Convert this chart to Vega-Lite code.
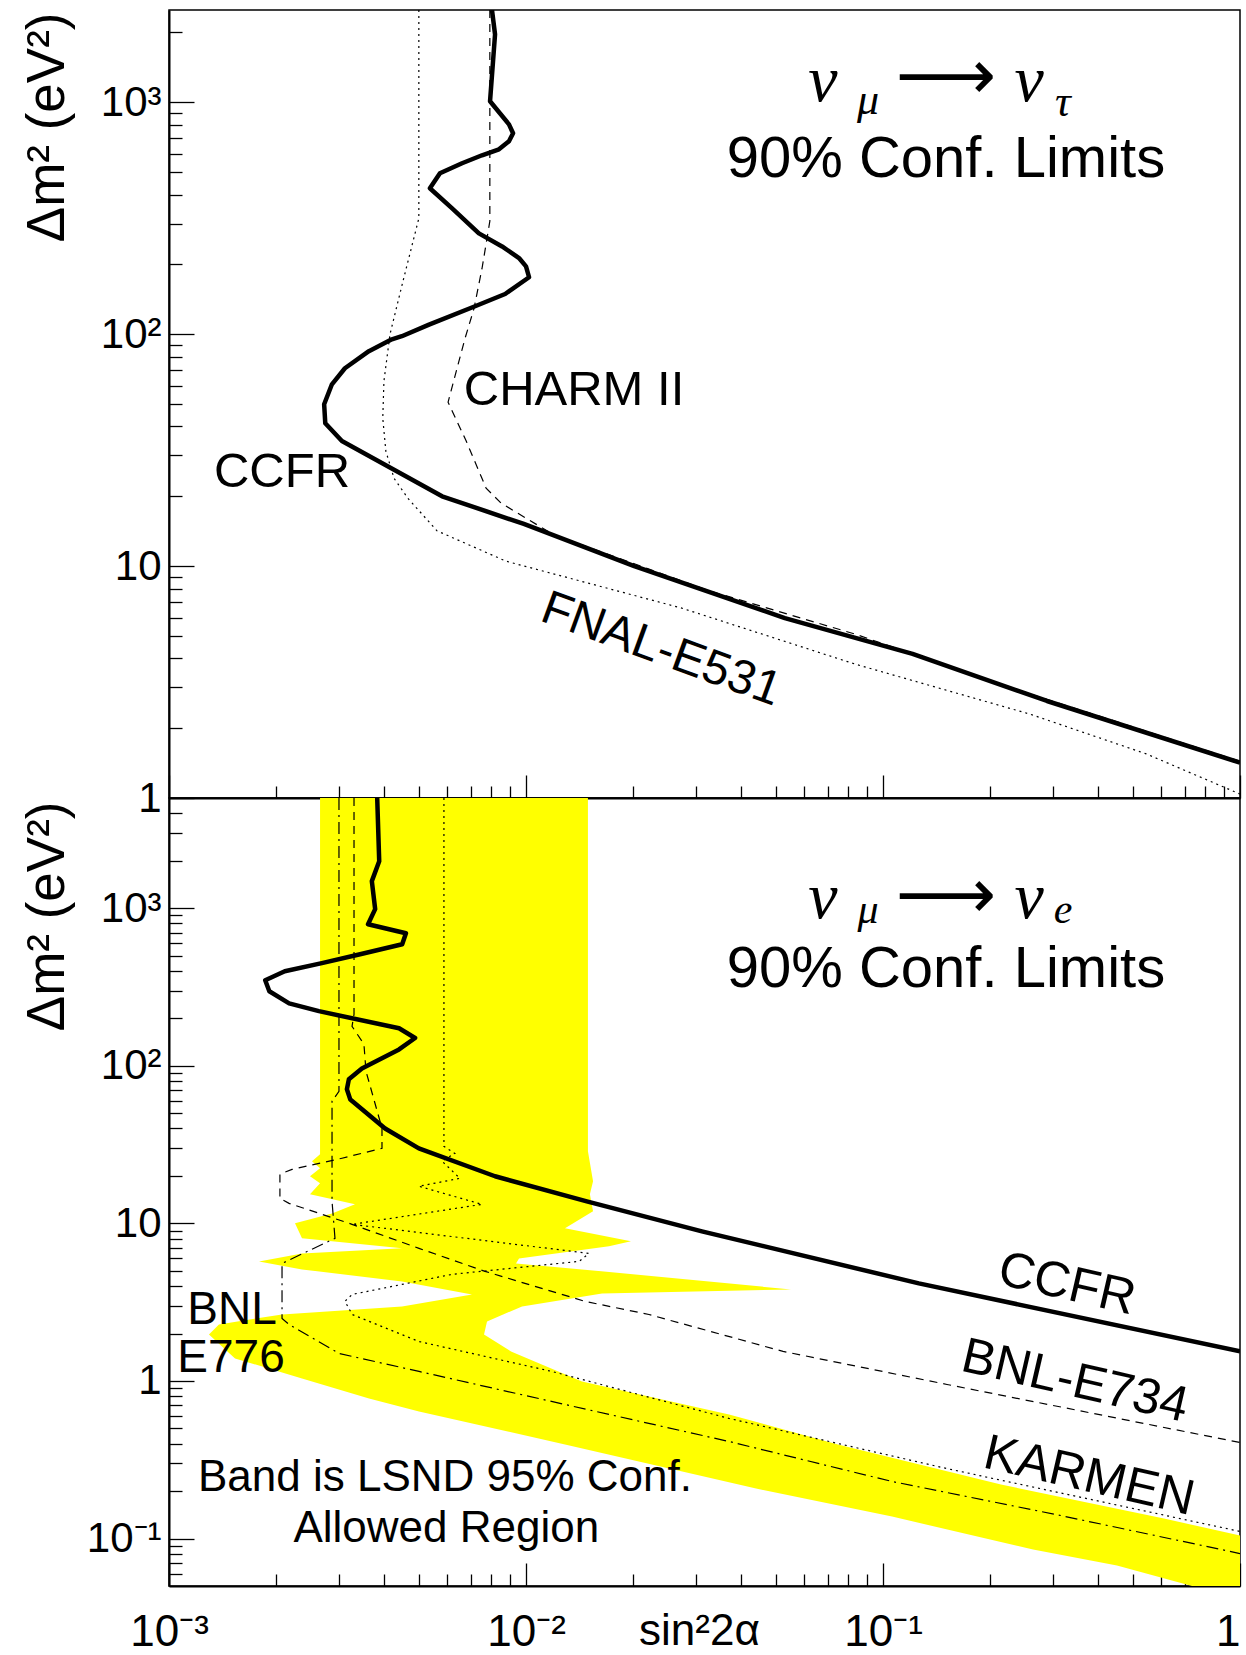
{
  "$schema": "https://vega.github.io/schema/vega-lite/v6.json",
  "background": "white",
  "padding": {"left": 20, "top": 9, "right": 0, "bottom": 0},
  "spacing": 0,
  "bounds": "flush",
  "config": {
    "view": {"stroke": "black", "strokeWidth": 1.5},
    "font": "Liberation Sans",
    "text": {"font": "Liberation Sans", "color": "black"}
  },
  "datasets": {
    "topLines": [
      {"c":"CCFR","i":0,"x":0.00803,"y":2500},{"c":"CCFR","i":1,"x":0.00819,"y":1963},{"c":"CCFR","i":2,"x":0.00793,"y":1010},{"c":"CCFR","i":3,"x":0.00896,"y":803},{"c":"CCFR","i":4,"x":0.0092,"y":735},{"c":"CCFR","i":5,"x":0.00896,"y":679},{"c":"CCFR","i":6,"x":0.0084,"y":627},{"c":"CCFR","i":7,"x":0.00753,"y":591},{"c":"CCFR","i":8,"x":0.00662,"y":546},{"c":"CCFR","i":9,"x":0.00574,"y":494},{"c":"CCFR","i":10,"x":0.00538,"y":426},{"c":"CCFR","i":11,"x":0.00621,"y":349},{"c":"CCFR","i":12,"x":0.00738,"y":272},{"c":"CCFR","i":13,"x":0.00857,"y":239},{"c":"CCFR","i":14,"x":0.00956,"y":213},{"c":"CCFR","i":15,"x":0.01,"y":196},{"c":"CCFR","i":16,"x":0.0102,"y":176},{"c":"CCFR","i":17,"x":0.00874,"y":149},{"c":"CCFR","i":18,"x":0.0072,"y":132},{"c":"CCFR","i":19,"x":0.00535,"y":110},{"c":"CCFR","i":20,"x":0.00449,"y":98},{"c":"CCFR","i":21,"x":0.00421,"y":95},{"c":"CCFR","i":22,"x":0.00363,"y":84.5},{"c":"CCFR","i":23,"x":0.00311,"y":71.3},{"c":"CCFR","i":24,"x":0.00286,"y":60.8},{"c":"CCFR","i":25,"x":0.00272,"y":49.9},{"c":"CCFR","i":26,"x":0.00274,"y":41.3},{"c":"CCFR","i":27,"x":0.00305,"y":34.6},{"c":"CCFR","i":28,"x":0.00582,"y":20.0},{"c":"CCFR","i":29,"x":0.00986,"y":15.2},{"c":"CCFR","i":30,"x":0.0201,"y":10.0},{"c":"CCFR","i":31,"x":0.0531,"y":5.97},{"c":"CCFR","i":32,"x":0.121,"y":4.18},{"c":"CCFR","i":33,"x":0.288,"y":2.62},{"c":"CCFR","i":34,"x":1.0,"y":1.42},
      {"c":"CHARM II","i":0,"x":0.00792,"y":2500},{"c":"CHARM II","i":1,"x":0.00792,"y":307},{"c":"CHARM II","i":2,"x":0.00753,"y":192},{"c":"CHARM II","i":3,"x":0.00715,"y":129},{"c":"CHARM II","i":4,"x":0.00675,"y":96},{"c":"CHARM II","i":5,"x":0.00641,"y":71.3},{"c":"CHARM II","i":6,"x":0.00605,"y":50.9},{"c":"CHARM II","i":7,"x":0.0068,"y":34.6},{"c":"CHARM II","i":8,"x":0.00773,"y":21.7},{"c":"CHARM II","i":9,"x":0.00851,"y":18.7},{"c":"CHARM II","i":10,"x":0.0119,"y":13.7},{"c":"CHARM II","i":11,"x":0.0328,"y":7.8},{"c":"CHARM II","i":12,"x":0.0835,"y":5.09},{"c":"CHARM II","i":13,"x":0.258,"y":2.81},{"c":"CHARM II","i":14,"x":1.0,"y":1.44},
      {"c":"FNAL-E531","i":0,"x":0.00501,"y":2500},{"c":"FNAL-E531","i":1,"x":0.00501,"y":316},{"c":"FNAL-E531","i":2,"x":0.0045,"y":164},{"c":"FNAL-E531","i":3,"x":0.00416,"y":100},{"c":"FNAL-E531","i":4,"x":0.004,"y":62.7},{"c":"FNAL-E531","i":5,"x":0.00397,"y":43.4},{"c":"FNAL-E531","i":6,"x":0.00405,"y":31.3},{"c":"FNAL-E531","i":7,"x":0.00427,"y":23.9},{"c":"FNAL-E531","i":8,"x":0.00467,"y":19.6},{"c":"FNAL-E531","i":9,"x":0.00563,"y":14.2},{"c":"FNAL-E531","i":10,"x":0.00879,"y":10.5},{"c":"FNAL-E531","i":11,"x":0.0272,"y":6.6},{"c":"FNAL-E531","i":12,"x":0.0835,"y":3.78},{"c":"FNAL-E531","i":13,"x":0.258,"y":2.3},{"c":"FNAL-E531","i":14,"x":0.546,"y":1.55},{"c":"FNAL-E531","i":15,"x":1.0,"y":1.04}
    ],
    "botLines": [
      {"c":"CCFR","i":0,"x":0.00383,"y":5000},{"c":"CCFR","i":1,"x":0.00388,"y":1986},{"c":"CCFR","i":2,"x":0.0037,"y":1484},{"c":"CCFR","i":3,"x":0.00378,"y":986},{"c":"CCFR","i":4,"x":0.00361,"y":791},{"c":"CCFR","i":5,"x":0.00461,"y":693},{"c":"CCFR","i":6,"x":0.0045,"y":590},{"c":"CCFR","i":7,"x":0.00343,"y":510},{"c":"CCFR","i":8,"x":0.00268,"y":448},{"c":"CCFR","i":9,"x":0.00211,"y":398},{"c":"CCFR","i":10,"x":0.00186,"y":349},{"c":"CCFR","i":11,"x":0.00191,"y":297},{"c":"CCFR","i":12,"x":0.00217,"y":249},{"c":"CCFR","i":13,"x":0.00263,"y":222},{"c":"CCFR","i":14,"x":0.00441,"y":173},{"c":"CCFR","i":15,"x":0.00489,"y":150},{"c":"CCFR","i":16,"x":0.00441,"y":127},{"c":"CCFR","i":17,"x":0.00347,"y":96},{"c":"CCFR","i":18,"x":0.00319,"y":82},{"c":"CCFR","i":19,"x":0.00315,"y":71},{"c":"CCFR","i":20,"x":0.00322,"y":61},{"c":"CCFR","i":21,"x":0.00403,"y":40},{"c":"CCFR","i":22,"x":0.00501,"y":29.9},{"c":"CCFR","i":23,"x":0.00819,"y":19.9},{"c":"CCFR","i":24,"x":0.0148,"y":13.8},{"c":"CCFR","i":25,"x":0.0311,"y":8.9},{"c":"CCFR","i":26,"x":0.126,"y":4.16},{"c":"CCFR","i":27,"x":1.0,"y":1.54},
      {"c":"BNL-E734","i":0,"x":0.003298,"y":5000},{"c":"BNL-E734","i":1,"x":0.003298,"y":212},{"c":"BNL-E734","i":2,"x":0.003256,"y":178},{"c":"BNL-E734","i":3,"x":0.003516,"y":137},{"c":"BNL-E734","i":4,"x":0.003563,"y":92.3},{"c":"BNL-E734","i":5,"x":0.00395,"y":40.1},{"c":"BNL-E734","i":6,"x":0.00395,"y":29.9},{"c":"BNL-E734","i":7,"x":0.003052,"y":25.9},{"c":"BNL-E734","i":8,"x":0.002211,"y":22.0},{"c":"BNL-E734","i":9,"x":0.002045,"y":20.5},{"c":"BNL-E734","i":10,"x":0.002045,"y":14.4},{"c":"BNL-E734","i":11,"x":0.002169,"y":13.4},{"c":"BNL-E734","i":12,"x":0.003256,"y":9.86},{"c":"BNL-E734","i":13,"x":0.005015,"y":6.94},{"c":"BNL-E734","i":14,"x":0.007678,"y":4.96},{"c":"BNL-E734","i":15,"x":0.01463,"y":3.2},{"c":"BNL-E734","i":16,"x":0.0221,"y":2.64},{"c":"BNL-E734","i":17,"x":0.05248,"y":1.54},{"c":"BNL-E734","i":18,"x":0.1511,"y":0.95},{"c":"BNL-E734","i":19,"x":1.0,"y":0.4069},
      {"c":"BNL-E776","i":0,"x":0.002993,"y":5000},{"c":"BNL-E776","i":1,"x":0.002993,"y":68.9},{"c":"BNL-E776","i":2,"x":0.002862,"y":59.5},{"c":"BNL-E776","i":3,"x":0.002862,"y":13.79},{"c":"BNL-E776","i":4,"x":0.002917,"y":8.035},{"c":"BNL-E776","i":5,"x":0.002073,"y":5.572},{"c":"BNL-E776","i":6,"x":0.002073,"y":2.493},{"c":"BNL-E776","i":7,"x":0.002169,"y":2.284},{"c":"BNL-E776","i":8,"x":0.002993,"y":1.495},{"c":"BNL-E776","i":9,"x":0.005015,"y":1.149},{"c":"BNL-E776","i":10,"x":0.01286,"y":0.7092},{"c":"BNL-E776","i":11,"x":0.03705,"y":0.413},{"c":"BNL-E776","i":12,"x":0.106,"y":0.2302},{"c":"BNL-E776","i":13,"x":0.3054,"y":0.142},{"c":"BNL-E776","i":14,"x":1.0,"y":0.08034},
      {"c":"KARMEN","i":0,"x":0.00589,"y":5000},{"c":"KARMEN","i":1,"x":0.00589,"y":30.8},{"c":"KARMEN","i":2,"x":0.00632,"y":27.8},{"c":"KARMEN","i":3,"x":0.00582,"y":24.8},{"c":"KARMEN","i":4,"x":0.00653,"y":19.3},{"c":"KARMEN","i":5,"x":0.00501,"y":17.2},{"c":"KARMEN","i":6,"x":0.00753,"y":13.2},{"c":"KARMEN","i":7,"x":0.00326,"y":9.86},{"c":"KARMEN","i":8,"x":0.015,"y":6.45},{"c":"KARMEN","i":9,"x":0.0141,"y":5.74},{"c":"KARMEN","i":10,"x":0.00621,"y":4.75},{"c":"KARMEN","i":11,"x":0.00326,"y":3.54},{"c":"KARMEN","i":12,"x":0.00311,"y":3.2},{"c":"KARMEN","i":13,"x":0.00326,"y":2.64},{"c":"KARMEN","i":14,"x":0.00501,"y":1.78},{"c":"KARMEN","i":15,"x":0.0118,"y":1.15},{"c":"KARMEN","i":16,"x":0.0371,"y":0.578},{"c":"KARMEN","i":17,"x":0.151,"y":0.278},{"c":"KARMEN","i":18,"x":1.0,"y":0.111}
    ],
    "lsnd": [
      {"i":0,"x":0.002649,"y":5000},{"i":1,"x":0.01491,"y":5000},{"i":2,"x":0.01491,"y":28.65},{"i":3,"x":0.01541,"y":18.48},{"i":4,"x":0.0151,"y":15.28},{"i":5,"x":0.01541,"y":11.92},{"i":6,"x":0.01286,"y":9.297},{"i":7,"x":0.01968,"y":7.689},{"i":8,"x":0.01708,"y":7.145},{"i":9,"x":0.009559,"y":5.995},{"i":10,"x":0.009376,"y":5.572},{"i":11,"x":0.01435,"y":5.103},{"i":12,"x":0.05526,"y":3.81},{"i":13,"x":0.01633,"y":3.593},{"i":14,"x":0.009747,"y":2.972},{"i":15,"x":0.007777,"y":2.387},{"i":16,"x":0.007628,"y":1.973},{"i":17,"x":0.009079,"y":1.539},{"i":18,"x":0.01435,"y":0.9926},{"i":19,"x":0.03705,"y":0.6126},{"i":20,"x":0.07478,"y":0.3953},{"i":21,"x":0.214,"y":0.2203},{"i":22,"x":0.6124,"y":0.134},{"i":23,"x":1.0,"y":0.1045},{"i":24,"x":1.0,"y":0.05},{"i":25,"x":0.7338,"y":0.05},{"i":26,"x":0.4522,"y":0.06742},{"i":27,"x":0.2632,"y":0.08514},{"i":28,"x":0.106,"y":0.1379},{"i":29,"x":0.0441,"y":0.2077},{"i":30,"x":0.01286,"y":0.3953},{"i":31,"x":0.005015,"y":0.64},{"i":32,"x":0.003633,"y":0.7743},{"i":33,"x":0.002358,"y":1.037},{"i":34,"x":0.001531,"y":1.39},{"i":35,"x":0.001294,"y":1.973},{"i":36,"x":0.00138,"y":2.284},{"i":37,"x":0.002073,"y":2.644},{"i":38,"x":0.004494,"y":2.972},{"i":39,"x":0.007058,"y":3.541},{"i":40,"x":0.004494,"y":4.281},{"i":41,"x":0.002358,"y":5.103},{"i":42,"x":0.001787,"y":5.737},{"i":43,"x":0.002358,"y":6.449},{"i":44,"x":0.004494,"y":6.939},{"i":45,"x":0.002358,"y":8.035},{"i":46,"x":0.002254,"y":10.0},{"i":47,"x":0.002862,"y":11.57},{"i":48,"x":0.003319,"y":13.2},{"i":49,"x":0.002483,"y":15.28},{"i":50,"x":0.002649,"y":17.95},{"i":51,"x":0.002483,"y":19.88},{"i":52,"x":0.002649,"y":22.35},{"i":53,"x":0.002515,"y":24.76},{"i":54,"x":0.002649,"y":27.42}
    ]
  },
  "vconcat": [
    {
      "width": 1071,
      "height": 788,
      "resolve": {"axis": {"x": "independent", "y": "independent"}},
      "layer": [
        {
          "data": {"name": "topLines"},
          "mark": {"type": "line", "opacity": 0},
          "encoding": {
            "x": {"field": "x", "type": "quantitative", "scale": {"type": "log", "domain": [0.001, 1], "nice": false},
              "axis": {"orient": "bottom", "values": [0.002,0.003,0.004,0.005,0.006,0.007,0.008,0.009,0.02,0.03,0.04,0.05,0.06,0.07,0.08,0.09,0.2,0.3,0.4,0.5,0.6,0.7,0.8,0.9], "labels": false, "tickSize": -12, "domain": false, "grid": false, "title": null, "tickColor": "black", "tickWidth": 1.3}},
            "y": {"field": "y", "type": "quantitative", "scale": {"type": "log", "domain": [1, 2500], "nice": false},
              "axis": {"orient": "left", "values": [2,3,4,5,6,7,8,9,20,30,40,50,60,70,80,90,200,300,400,500,600,700,800,900,2000], "labels": false, "tickSize": -13, "domain": false, "grid": false, "title": null, "tickColor": "black", "tickWidth": 1.3}},
            "order": {"field": "i", "type": "quantitative"},
            "detail": {"field": "c", "type": "nominal"}
          }
        },
        {
          "data": {"name": "topLines"},
          "transform": [{"filter": "datum.c == 'CCFR'"}],
          "mark": {"type": "line", "color": "black", "strokeWidth": 4.5, "clip": true, "strokeJoin": "round"},
          "encoding": {
            "x": {"field": "x", "type": "quantitative", "scale": {"type": "log", "domain": [0.001, 1], "nice": false},
              "axis": {"orient": "bottom", "values": [0.001, 0.01, 0.1, 1], "labels": false, "tickSize": -23, "domainColor": "black", "domainWidth": 2, "grid": false, "title": null, "tickColor": "black", "tickWidth": 1.3}},
            "y": {"field": "y", "type": "quantitative", "scale": {"type": "log", "domain": [1, 2500], "nice": false},
              "axis": {"orient": "left", "values": [1, 10, 100, 1000], "labelExpr": "datum.value < 5 ? '1' : datum.value < 50 ? '10' : datum.value < 500 ? '10²' : '10³'", "tickSize": -25, "labelPadding": 33, "labelFontSize": 42, "labelFont": "Liberation Sans", "labelColor": "black", "labelBaseline": "middle", "labelOverlap": false, "tickColor": "black", "tickWidth": 1.3, "domainColor": "black", "domainWidth": 2, "grid": false,
                "title": "Δm² (eV²)", "titleFont": "Liberation Sans", "titleFontSize": 53, "titleFontWeight": "normal", "titleColor": "black", "titleAngle": 270, "titleAlign": "right", "titleBaseline": "middle", "titleX": -122, "titleY": 2}},
            "order": {"field": "i", "type": "quantitative"}
          }
        },
        {
          "data": {"name": "topLines"},
          "transform": [{"filter": "datum.c == 'CHARM II'"}],
          "mark": {"type": "line", "color": "black", "strokeWidth": 1.2, "strokeDash": [8, 6], "clip": true},
          "encoding": {
            "x": {"field": "x", "type": "quantitative", "scale": {"type": "log", "domain": [0.001, 1], "nice": false}, "axis": null},
            "y": {"field": "y", "type": "quantitative", "scale": {"type": "log", "domain": [1, 2500], "nice": false}, "axis": null},
            "order": {"field": "i", "type": "quantitative"}
          }
        },
        {
          "data": {"name": "topLines"},
          "transform": [{"filter": "datum.c == 'FNAL-E531'"}],
          "mark": {"type": "line", "color": "black", "strokeWidth": 1.2, "strokeDash": [2, 4], "clip": true},
          "encoding": {
            "x": {"field": "x", "type": "quantitative", "scale": {"type": "log", "domain": [0.001, 1], "nice": false}, "axis": null},
            "y": {"field": "y", "type": "quantitative", "scale": {"type": "log", "domain": [1, 2500], "nice": false}, "axis": null},
            "order": {"field": "i", "type": "quantitative"}
          }
        },
        {
          "data": {"values": [{"t": "90% Conf. Limits", "x": 0.1501, "y": 562}]},
          "mark": {"type": "text", "fontSize": 58, "align": "center", "baseline": "middle"},
          "encoding": {
            "x": {"field": "x", "type": "quantitative", "scale": {"type": "log", "domain": [0.001, 1], "nice": false}, "axis": null},
            "y": {"field": "y", "type": "quantitative", "scale": {"type": "log", "domain": [1, 2500], "nice": false}, "axis": null},
            "text": {"field": "t"}
          }
        },
        {
          "data": {"values": [{"t": "CHARM II", "x": 0.01363, "y": 57.4}, {"t": "CCFR", "x": 0.002073, "y": 25.4}]},
          "mark": {"type": "text", "fontSize": 49, "align": "center", "baseline": "middle"},
          "encoding": {
            "x": {"field": "x", "type": "quantitative", "scale": {"type": "log", "domain": [0.001, 1], "nice": false}, "axis": null},
            "y": {"field": "y", "type": "quantitative", "scale": {"type": "log", "domain": [1, 2500], "nice": false}, "axis": null},
            "text": {"field": "t"}
          }
        },
        {
          "data": {"values": [{"t": "FNAL-E531", "x": 0.02389, "y": 4.345}]},
          "mark": {"type": "text", "fontSize": 48, "align": "center", "baseline": "middle", "angle": 20},
          "encoding": {
            "x": {"field": "x", "type": "quantitative", "scale": {"type": "log", "domain": [0.001, 1], "nice": false}, "axis": null},
            "y": {"field": "y", "type": "quantitative", "scale": {"type": "log", "domain": [1, 2500], "nice": false}, "axis": null},
            "text": {"field": "t"}
          }
        },
        {
          "data": {"values": [{"t": "ν", "x": 0.06789, "y": 1010}, {"t": "ν", "x": 0.2565, "y": 1010}]},
          "mark": {"type": "text", "font": "Liberation Serif", "fontStyle": "italic", "fontSize": 66, "align": "center", "baseline": "alphabetic"},
          "encoding": {
            "x": {"field": "x", "type": "quantitative", "scale": {"type": "log", "domain": [0.001, 1], "nice": false}, "axis": null},
            "y": {"field": "y", "type": "quantitative", "scale": {"type": "log", "domain": [1, 2500], "nice": false}, "axis": null},
            "text": {"field": "t"}
          }
        },
        {
          "data": {"values": [{"t": "μ", "x": 0.09078, "y": 887.6}, {"t": "τ", "x": 0.3193, "y": 870.4}]},
          "mark": {"type": "text", "font": "Liberation Serif", "fontStyle": "italic", "fontSize": 44, "align": "center", "baseline": "alphabetic"},
          "encoding": {
            "x": {"field": "x", "type": "quantitative", "scale": {"type": "log", "domain": [0.001, 1], "nice": false}, "axis": null},
            "y": {"field": "y", "type": "quantitative", "scale": {"type": "log", "domain": [1, 2500], "nice": false}, "axis": null},
            "text": {"field": "t"}
          }
        },
        {
          "data": {"values": [{"t": "⟶", "x": 0.1501, "y": 1269}]},
          "mark": {"type": "text", "font": "DejaVu Sans", "fontSize": 70, "align": "center", "baseline": "middle"},
          "encoding": {
            "x": {"field": "x", "type": "quantitative", "scale": {"type": "log", "domain": [0.001, 1], "nice": false}, "axis": null},
            "y": {"field": "y", "type": "quantitative", "scale": {"type": "log", "domain": [1, 2500], "nice": false}, "axis": null},
            "text": {"field": "t"}
          }
        }
      ]
    },
    {
      "width": 1071,
      "height": 788,
      "resolve": {"axis": {"x": "independent", "y": "independent"}},
      "layer": [
        {
          "data": {"name": "lsnd"},
          "mark": {"type": "line", "filled": true, "color": "#ffff00", "strokeWidth": 0, "clip": true},
          "encoding": {
            "x": {"field": "x", "type": "quantitative", "scale": {"type": "log", "domain": [0.001, 1], "nice": false},
              "axis": {"orient": "bottom", "values": [0.002,0.003,0.004,0.005,0.006,0.007,0.008,0.009,0.02,0.03,0.04,0.05,0.06,0.07,0.08,0.09,0.2,0.3,0.4,0.5,0.6,0.7,0.8,0.9], "labels": false, "tickSize": -12, "domain": false, "grid": false, "title": null, "tickColor": "black", "tickWidth": 1.3}},
            "y": {"field": "y", "type": "quantitative", "scale": {"type": "log", "domain": [0.05, 5000], "nice": false},
              "axis": {"orient": "left", "values": [0.06,0.07,0.08,0.09,0.2,0.3,0.4,0.5,0.6,0.7,0.8,0.9,2,3,4,5,6,7,8,9,20,30,40,50,60,70,80,90,200,300,400,500,600,700,800,900,2000,3000,4000], "labels": false, "tickSize": -13, "domain": false, "grid": false, "title": null, "tickColor": "black", "tickWidth": 1.3}},
            "order": {"field": "i", "type": "quantitative"}
          }
        },
        {
          "data": {"name": "botLines"},
          "transform": [{"filter": "datum.c == 'CCFR'"}],
          "mark": {"type": "line", "color": "black", "strokeWidth": 4.5, "clip": true, "strokeJoin": "round"},
          "encoding": {
            "x": {"field": "x", "type": "quantitative", "scale": {"type": "log", "domain": [0.001, 1], "nice": false},
              "axis": {"orient": "bottom", "values": [0.001, 0.01, 0.1, 1], "labelExpr": "datum.value < 0.005 ? '10⁻³' : datum.value < 0.05 ? '10⁻²' : datum.value < 0.5 ? '10⁻¹' : '1'", "labelAlign": {"condition": {"test": "datum.value > 0.5", "value": "right"}, "value": "center"}, "labelFlush": false, "labelOverlap": false, "labelBaseline": "alphabetic", "labelPadding": 82, "labelFontSize": 44, "labelFont": "Liberation Sans", "labelColor": "black", "tickSize": -23, "domainColor": "black", "domainWidth": 2, "grid": false, "tickColor": "black", "tickWidth": 1.3,
                "title": "sin²2α", "titleFont": "Liberation Sans", "titleFontSize": 44, "titleFontWeight": "normal", "titleColor": "black", "titleAlign": "center", "titleBaseline": "alphabetic", "titleX": 530, "titleY": 58}},
            "y": {"field": "y", "type": "quantitative", "scale": {"type": "log", "domain": [0.05, 5000], "nice": false},
              "axis": {"orient": "left", "values": [0.1, 1, 10, 100, 1000], "labelExpr": "datum.value < 0.5 ? '10⁻¹' : datum.value < 5 ? '1' : datum.value < 50 ? '10' : datum.value < 500 ? '10²' : '10³'", "tickSize": -25, "labelPadding": 33, "labelFontSize": 42, "labelFont": "Liberation Sans", "labelColor": "black", "labelBaseline": "middle", "labelOverlap": false, "tickColor": "black", "tickWidth": 1.3, "domainColor": "black", "domainWidth": 2, "grid": false,
                "title": "Δm² (eV²)", "titleFont": "Liberation Sans", "titleFontSize": 53, "titleFontWeight": "normal", "titleColor": "black", "titleAngle": 270, "titleAlign": "right", "titleBaseline": "middle", "titleX": -122, "titleY": 3}},
            "order": {"field": "i", "type": "quantitative"}
          }
        },
        {
          "data": {"name": "botLines"},
          "transform": [{"filter": "datum.c == 'BNL-E734'"}],
          "mark": {"type": "line", "color": "black", "strokeWidth": 1.2, "strokeDash": [8, 6], "clip": true},
          "encoding": {
            "x": {"field": "x", "type": "quantitative", "scale": {"type": "log", "domain": [0.001, 1], "nice": false}, "axis": null},
            "y": {"field": "y", "type": "quantitative", "scale": {"type": "log", "domain": [0.05, 5000], "nice": false}, "axis": null},
            "order": {"field": "i", "type": "quantitative"}
          }
        },
        {
          "data": {"name": "botLines"},
          "transform": [{"filter": "datum.c == 'BNL-E776'"}],
          "mark": {"type": "line", "color": "black", "strokeWidth": 1.2, "strokeDash": [12, 5, 2, 5], "clip": true},
          "encoding": {
            "x": {"field": "x", "type": "quantitative", "scale": {"type": "log", "domain": [0.001, 1], "nice": false}, "axis": null},
            "y": {"field": "y", "type": "quantitative", "scale": {"type": "log", "domain": [0.05, 5000], "nice": false}, "axis": null},
            "order": {"field": "i", "type": "quantitative"}
          }
        },
        {
          "data": {"name": "botLines"},
          "transform": [{"filter": "datum.c == 'KARMEN'"}],
          "mark": {"type": "line", "color": "black", "strokeWidth": 1.2, "strokeDash": [2, 4], "clip": true},
          "encoding": {
            "x": {"field": "x", "type": "quantitative", "scale": {"type": "log", "domain": [0.001, 1], "nice": false}, "axis": null},
            "y": {"field": "y", "type": "quantitative", "scale": {"type": "log", "domain": [0.05, 5000], "nice": false}, "axis": null},
            "order": {"field": "i", "type": "quantitative"}
          }
        },
        {
          "data": {"values": [{"t": "90% Conf. Limits", "x": 0.1501, "y": 404}]},
          "mark": {"type": "text", "fontSize": 58, "align": "center", "baseline": "middle"},
          "encoding": {
            "x": {"field": "x", "type": "quantitative", "scale": {"type": "log", "domain": [0.001, 1], "nice": false}, "axis": null},
            "y": {"field": "y", "type": "quantitative", "scale": {"type": "log", "domain": [0.05, 5000], "nice": false}, "axis": null},
            "text": {"field": "t"}
          }
        },
        {
          "data": {"values": [{"t": "CCFR", "x": 0.3275, "y": 4.1}, {"t": "BNL-E734", "x": 0.3448, "y": 0.9927}, {"t": "KARMEN", "x": 0.3776, "y": 0.2475}]},
          "mark": {"type": "text", "fontSize": 50, "align": "center", "baseline": "middle", "angle": 13},
          "encoding": {
            "x": {"field": "x", "type": "quantitative", "scale": {"type": "log", "domain": [0.001, 1], "nice": false}, "axis": null},
            "y": {"field": "y", "type": "quantitative", "scale": {"type": "log", "domain": [0.05, 5000], "nice": false}, "axis": null},
            "text": {"field": "t"}
          }
        },
        {
          "data": {"values": [{"t": "BNL", "x": 0.001501, "y": 2.803}, {"t": "E776", "x": 0.001492, "y": 1.39}]},
          "mark": {"type": "text", "fontSize": 46, "align": "center", "baseline": "middle"},
          "encoding": {
            "x": {"field": "x", "type": "quantitative", "scale": {"type": "log", "domain": [0.001, 1], "nice": false}, "axis": null},
            "y": {"field": "y", "type": "quantitative", "scale": {"type": "log", "domain": [0.05, 5000], "nice": false}, "axis": null},
            "text": {"field": "t"}
          }
        },
        {
          "data": {"values": [{"t": "Band is LSND 95% Conf.", "x": 0.00593, "y": 0.2439}, {"t": "Allowed Region", "x": 0.005982, "y": 0.1157}]},
          "mark": {"type": "text", "fontSize": 44, "align": "center", "baseline": "middle"},
          "encoding": {
            "x": {"field": "x", "type": "quantitative", "scale": {"type": "log", "domain": [0.001, 1], "nice": false}, "axis": null},
            "y": {"field": "y", "type": "quantitative", "scale": {"type": "log", "domain": [0.05, 5000], "nice": false}, "axis": null},
            "text": {"field": "t"}
          }
        },
        {
          "data": {"values": [{"t": "ν", "x": 0.06789, "y": 864}, {"t": "ν", "x": 0.2565, "y": 864}]},
          "mark": {"type": "text", "font": "Liberation Serif", "fontStyle": "italic", "fontSize": 66, "align": "center", "baseline": "alphabetic"},
          "encoding": {
            "x": {"field": "x", "type": "quantitative", "scale": {"type": "log", "domain": [0.001, 1], "nice": false}, "axis": null},
            "y": {"field": "y", "type": "quantitative", "scale": {"type": "log", "domain": [0.05, 5000], "nice": false}, "axis": null},
            "text": {"field": "t"}
          }
        },
        {
          "data": {"values": [{"t": "μ", "x": 0.09078, "y": 803}, {"t": "e", "x": 0.3193, "y": 803}]},
          "mark": {"type": "text", "font": "Liberation Serif", "fontStyle": "italic", "fontSize": 42, "align": "center", "baseline": "alphabetic"},
          "encoding": {
            "x": {"field": "x", "type": "quantitative", "scale": {"type": "log", "domain": [0.001, 1], "nice": false}, "axis": null},
            "y": {"field": "y", "type": "quantitative", "scale": {"type": "log", "domain": [0.05, 5000], "nice": false}, "axis": null},
            "text": {"field": "t"}
          }
        },
        {
          "data": {"values": [{"t": "⟶", "x": 0.1501, "y": 1180}]},
          "mark": {"type": "text", "font": "DejaVu Sans", "fontSize": 70, "align": "center", "baseline": "middle"},
          "encoding": {
            "x": {"field": "x", "type": "quantitative", "scale": {"type": "log", "domain": [0.001, 1], "nice": false}, "axis": null},
            "y": {"field": "y", "type": "quantitative", "scale": {"type": "log", "domain": [0.05, 5000], "nice": false}, "axis": null},
            "text": {"field": "t"}
          }
        }
      ]
    }
  ]
}
